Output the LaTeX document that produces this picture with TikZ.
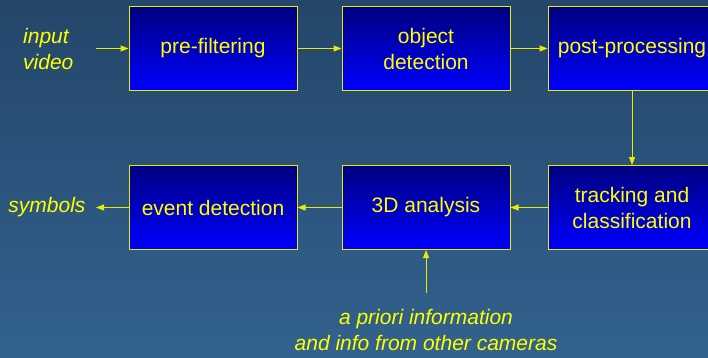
\documentclass[tikz,border=0pt]{standalone}
\usepackage{fontspec}
\setmainfont{Liberation Sans}
\usetikzlibrary{arrows.meta}
\definecolor{bgtop}{RGB}{36,70,106}
\definecolor{bgbottom}{RGB}{50,98,142}
\definecolor{boxtop}{RGB}{0,0,128}
\definecolor{boxbottom}{RGB}{0,0,255}
\definecolor{lineyellow}{RGB}{235,235,0}
\definecolor{textyellow}{RGB}{255,255,0}
\begin{document}
\begin{tikzpicture}[x=1pt,y=1pt,
    stagebox/.style={draw=lineyellow, line width=1pt, top color=boxtop, bottom color=boxbottom,
      minimum width=168pt, minimum height=84pt, inner sep=0pt, align=center,
      text=textyellow, font=\fontsize{21}{26}\selectfont},
    sidelabel/.style={text=textyellow, inner sep=0pt, font=\fontsize{21}{26}\selectfont\itshape},
    flow/.style={draw=lineyellow, line width=1pt, -{Triangle[length=8pt,width=6pt]}}]
    \clip (0,0) rectangle (708,357);
    \shade[top color=bgtop, bottom color=bgbottom] (0,0) rectangle (708,357);
    \node[stagebox] (prefilter) at (213,308.5) {pre-filtering};
    \node[stagebox] (objdetect) at (426,308.5) {object\\detection};
    \node[stagebox] (postproc) at (632,308.5) {post-processing};
    \node[stagebox] (tracking) at (632,149.5) {tracking and\\classification};
    \node[stagebox] (analysis) at (426,149.5) {3D analysis};
    \node[stagebox] (eventdet) at (213,149.5) {event detection};
    \node[sidelabel, anchor=west, align=left] (input) at (23,308.5) {input\\video};
    \node[sidelabel] (symbols) at (47,149.5) {symbols};
    \node[sidelabel, align=center] (apriori) at (426,27) {a priori information\\and info from other cameras};
    \coordinate (inputend) at (96,308.5);
    \coordinate (symbolsend) at (96,149.5);
    \coordinate (apriorend) at (426,64);
    \draw[flow] (inputend) -- (prefilter);
    \draw[flow] (prefilter) -- (objdetect);
    \draw[flow] (objdetect) -- (postproc);
    \draw[flow] (postproc) -- (tracking);
    \draw[flow] (tracking) -- (analysis);
    \draw[flow] (analysis) -- (eventdet);
    \draw[flow] (eventdet) -- (symbolsend);
    \draw[flow] (apriorend) -- (analysis);
\end{tikzpicture}
\end{document}
